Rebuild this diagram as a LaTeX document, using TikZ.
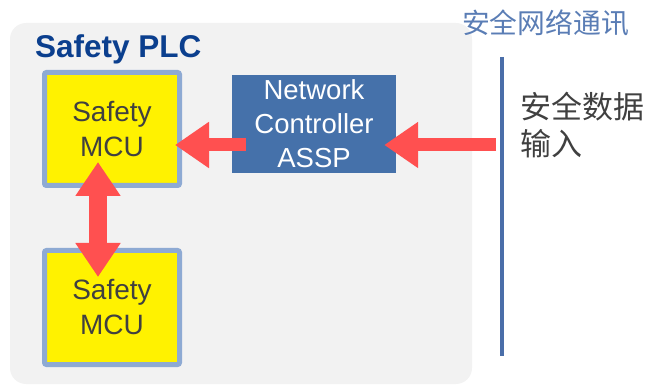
\documentclass[tikz,border=0pt]{standalone}
\usepackage{fontspec}
\setmainfont{Liberation Sans}
\newfontfamily\cjk{Noto Sans CJK SC}
\usetikzlibrary{arrows.meta}
\definecolor{panelgray}{HTML}{F2F2F2}
\definecolor{mcuborder}{HTML}{8EAAD3}
\definecolor{netblue}{HTML}{4571AA}
\definecolor{plcblue}{HTML}{0B3F8E}
\definecolor{textgray}{HTML}{404040}
\definecolor{flowred}{HTML}{FF5050}
\definecolor{busblue}{HTML}{4A6EA9}
\definecolor{titleblue}{HTML}{5A7DB5}
\tikzset{
  mcubox/.style={draw=mcuborder, line width=5pt, fill=yellow, rounded corners=2pt,
    minimum width=135pt, minimum height=113pt, text=textgray, align=center,
    font=\fontsize{28}{35}\selectfont},
  netbox/.style={fill=netblue, minimum width=164pt, minimum height=98pt, inner sep=0pt,
    text=white, align=center, font=\fontsize{27.5}{34}\selectfont},
  flowh/.style={draw=flowred, line width=13pt, -{Triangle[length=34pt,width=44pt]}},
  flowv/.style={draw=flowred, line width=18pt,
    {Triangle[length=34pt,width=43pt]}-{Triangle[length=34pt,width=43pt]}},
}
\begin{document}
\begin{tikzpicture}[x=1pt,y=-1pt]
\useasboundingbox (0,0) rectangle (649,385);
% PLC enclosure
\fill[panelgray, rounded corners=16pt] (10,23) rectangle (472,384);
\node[anchor=base west, text=plcblue, font=\fontsize{31.5}{36}\selectfont\bfseries, inner sep=0pt]
  (plc) at (35,58) {Safety PLC};
% blocks
\node[mcubox] (mcuA) at (112,129) {Safety\\MCU};
\node[mcubox, minimum height=114pt] (mcuB) at (112,307.5) {Safety\\MCU};
\node[netbox] (net) at (314,124) {Network\\Controller\\ASSP};
% safety network bus
\coordinate (busTop) at (502,57);
\coordinate (busBot) at (502,356);
\draw[busblue, line width=4pt] (busTop) -- (busBot);
\node[text=titleblue, font=\cjk\fontsize{27.8}{30}\selectfont, inner sep=0pt]
  (bustitle) at (545.5,23) {安全网络通讯};
\node[anchor=north west, text=textgray, align=left, inner sep=0pt,
  font=\cjk\fontsize{31}{37}\selectfont] (input) at (520,92) {安全数据\\输入};
% data flow
\coordinate (src) at (496,145);
\draw[flowh] (src) -- ([xshift=-12pt]net.east |- src);
\draw[flowh] ([xshift=14pt]net.west |- src) -- ([xshift=-7pt]mcuA.east |- src);
\draw[flowv] ([xshift=-14pt,yshift=26pt]mcuA.south) -- ([xshift=-14pt,yshift=-29pt]mcuB.north);
\end{tikzpicture}
\end{document}
